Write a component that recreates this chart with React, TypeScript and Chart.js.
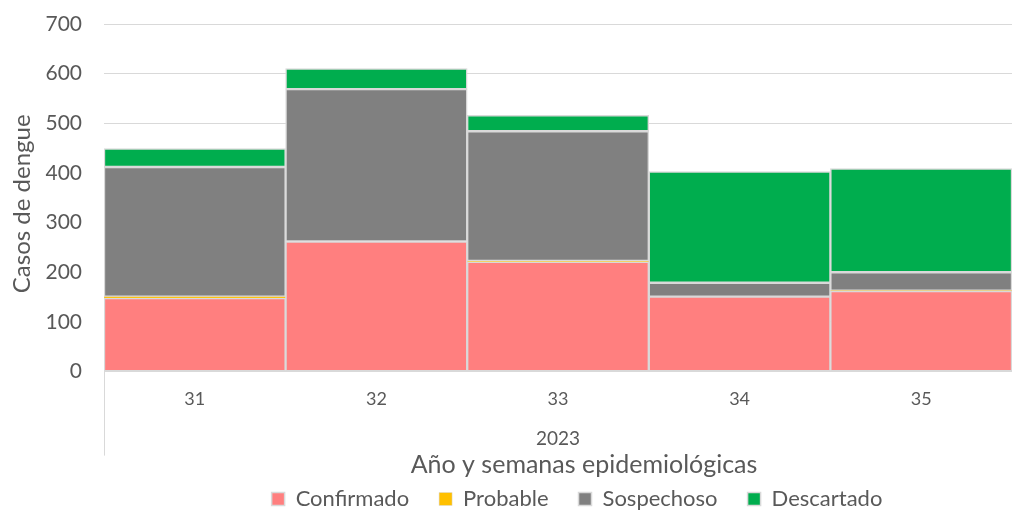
import React, { useEffect, useRef } from "react";
import { Chart, registerables } from "chart.js";

Chart.register(...registerables);

const weeks = ["31", "32", "33", "34", "35"];
const yearLabels = ["2023"];
const confirmado = [148, 262, 221, 151, 162];
const probable = [3, 0, 2, 0, 1];
const sospechoso = [261, 307, 261, 28, 37];
const descartado = [37, 41, 32, 224, 209];

const FONT = "Lato, 'Open Sans', sans-serif";
const TEXT = "#595959";
const GRID = "#d9d9d9";

const leftLinePlugin = {
  id: "leftLine",
  afterDraw(chart: any) {
    const { ctx, chartArea } = chart;
    ctx.save();
    ctx.strokeStyle = GRID;
    ctx.lineWidth = 1;
    ctx.beginPath();
    const x = Math.round(chartArea.left) + 0.5;
    ctx.moveTo(x, chartArea.bottom);
    ctx.lineTo(x, chartArea.bottom + 84);
    ctx.stroke();
    ctx.restore();
  },
};

// nudges legend and axis-title boxes to match the reference placement
const layoutNudgePlugin = {
  id: "layoutNudge",
  afterLayout(chart: any) {
    const lg = chart.legend;
    if (lg) {
      lg.left += 71;
      lg.right += 71;
      lg.top -= 22;
    }
    const x2 = chart.scales.x2;
    if (x2) {
      x2.left += 26;
      x2.right += 26;
    }
    const y = chart.scales.y;
    if (y) {
      y.top += 6;
      y.bottom += 6;
    }
  },
};

export default function App() {
  const ref = useRef<HTMLCanvasElement>(null);
  useEffect(() => {
    document.body.style.margin = "0";
    const mk = (label: string, data: number[], color: string, bw = 1.5) => ({
      label,
      data,
      backgroundColor: color,
      borderColor: GRID,
      borderWidth: bw,
      borderSkipped: false,
      barPercentage: 1,
      categoryPercentage: 1,
    });
    const chart = new Chart(ref.current!, {
      type: "bar",
      data: {
        labels: weeks,
        datasets: [
          mk("Confirmado", confirmado, "#ff7f7f"),
          mk("Probable", probable, "#ffc000", 0.5),
          mk("Sospechoso", sospechoso, "#808080"),
          mk("Descartado", descartado, "#00ad4e"),
        ],
      },
      options: {
        animation: false,
        responsive: false,
        maintainAspectRatio: false,
        layout: { padding: { top: 24, right: 0, bottom: 0, left: 0 } },
        plugins: {
          tooltip: { enabled: false },
          legend: {
            position: "bottom",
            maxHeight: 31,
            labels: {
              color: TEXT,
              font: { family: FONT, size: 22 },
              boxWidth: 13,
              boxHeight: 13,
              padding: 30,
            },
          },
        },
        scales: {
          x: {
            stacked: true,
            grid: { display: false, drawTicks: false },
            border: { display: false },
            ticks: { color: TEXT, font: { family: FONT, size: 18 }, padding: 17 },
          },
          x2: {
            type: "category",
            labels: yearLabels,
            position: "bottom",
            grid: { display: false, drawTicks: false },
            border: { display: false },
            ticks: { color: TEXT, font: { family: FONT, size: 19 }, padding: 0 },
            title: {
              display: true,
              text: "Año y semanas epidemiológicas",
              color: TEXT,
              font: { family: FONT, size: 25 },
              padding: { top: 0, bottom: 0 },
            },
          },
          y: {
            stacked: true,
            min: 0,
            max: 700,
            ticks: { stepSize: 100, color: TEXT, font: { family: FONT, size: 21 }, padding: 22 },
            grid: { color: GRID, drawTicks: false },
            border: { display: false },
            title: {
              display: true,
              text: "Casos de dengue",
              color: TEXT,
              font: { family: FONT, size: 24 },
              padding: { top: 8, bottom: 0 },
            },
            afterFit(scale: any) {
              scale.width = 104;
              scale.paddingTop = 0;
              scale.paddingBottom = 0;
            },
          },
        },
      },
      plugins: [leftLinePlugin, layoutNudgePlugin],
    });
    return () => chart.destroy();
  }, []);
  return (
    <div style={{ width: 1012, height: 511 }}>
      <canvas ref={ref} width={1012} height={511} style={{ width: 1012, height: 511, display: "block" }} />
    </div>
  );
}
